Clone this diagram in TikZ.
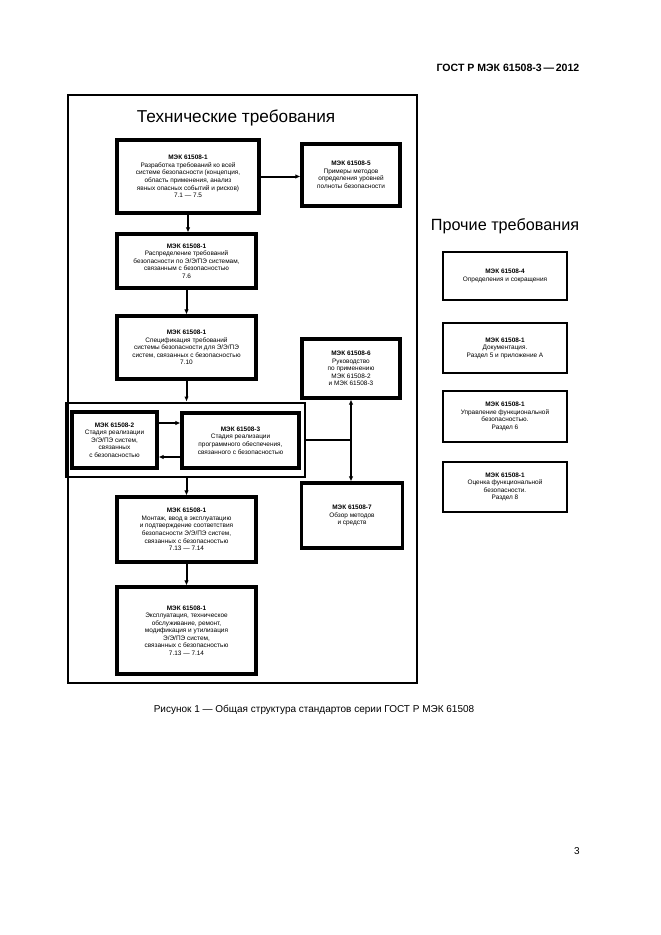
\documentclass[tikz,border=0pt]{standalone}
\usepackage{fontspec}
\setmainfont{Liberation Sans}
\usetikzlibrary{arrows.meta}
\definecolor{framecolor}{rgb}{0,0,0}

\begin{document}
\begin{tikzpicture}[x=0.9pt, y=-0.9pt, draw=framecolor,
    techbox/.style={draw, line width=2.8pt, align=center, inner sep=0pt,
      font=\fontsize{5.8}{6.8}\selectfont},
    otherbox/.style={draw, line width=1.8pt, align=center, inner sep=0pt,
      font=\fontsize{5.8}{6.8}\selectfont},
    arr/.style={-{Latex[length=4.5pt,width=4pt]}, line width=1.8pt},
    biarr/.style={{Latex[length=4.5pt,width=4pt]}-{Latex[length=4.5pt,width=4pt]}, line width=1.8pt},
    heading/.style={font=\fontsize{15.5}{18}\selectfont}]
  \useasboundingbox (0,0) rectangle (661,935);
  \fill[white] (0,0) rectangle (661,935);

  % page header, caption, page number
  \node (gost) at (508,68) {\bfseries\fontsize{9.5}{11}\selectfont ГОСТ Р МЭК 61508-3\,—\,2012};
  \node (capt) at (314,710) {\fontsize{9}{10}\selectfont Рисунок 1 — Общая структура стандартов серии ГОСТ Р МЭК 61508};
  \node (pnum) at (577,851) {\fontsize{9}{11}\selectfont 3};

  % technical requirements
  \draw[line width=2.1pt] (68,95) rectangle (417,683);
  \node[heading] (tech) at (236,118) {Технические требования};

  \node[techbox, minimum width=142*0.9pt, minimum height=73*0.9pt] (b1) at (188,176.5)
    {\textbf{МЭК 61508-1}\\Разработка требований ко всей\\системе безопасности (концепция,\\область применения, анализ\\явных опасных событий и рисков)\\7.1 — 7.5};
  \node[techbox, minimum width=98*0.9pt, minimum height=62*0.9pt] (b5) at (351,175)
    {\textbf{МЭК 61508-5}\\Примеры методов\\определения уровней\\полноты безопасности};
  \node[techbox, minimum width=139*0.9pt, minimum height=54*0.9pt] (b3) at (186.5,261)
    {\textbf{МЭК 61508-1}\\Распределение требований\\безопасности по Э/Э/ПЭ системам,\\связанным с безопасностью\\7.6};
  \node[techbox, minimum width=139*0.9pt, minimum height=63*0.9pt] (b4) at (186.5,347.5)
    {\textbf{МЭК 61508-1}\\Спецификация требований\\системы безопасности для Э/Э/ПЭ\\систем, связанных с безопасностью\\7.10};
  \node[techbox, minimum width=98*0.9pt, minimum height=59*0.9pt] (b6) at (351,368.5)
    {\textbf{МЭК 61508-6}\\Руководство\\по применению\\МЭК 61508-2\\и МЭК 61508-3};

  \node[draw, line width=2.6pt, minimum width=239*0.9pt, minimum height=74*0.9pt] (grp) at (185.5,440) {};
  \node[techbox, minimum width=85*0.9pt, minimum height=56*0.9pt] (hw) at (114.5,440)
    {\textbf{МЭК 61508-2}\\Стадия реализации\\Э/Э/ПЭ систем,\\связанных\\с безопасностью};
  \node[techbox, minimum width=117*0.9pt, minimum height=55*0.9pt] (sw) at (240.5,440.5)
    {\textbf{МЭК 61508-3}\\Стадия реализации\\программного обеспечения,\\связанного с безопасностью};

  \node[techbox, minimum width=101*0.9pt, minimum height=65*0.9pt] (b9) at (352,515.5)
    {\textbf{МЭК 61508-7}\\Обзор методов\\и средств};
  \node[techbox, minimum width=139*0.9pt, minimum height=65*0.9pt] (b8) at (186.5,529.5)
    {\textbf{МЭК 61508-1}\\Монтаж, ввод в эксплуатацию\\и подтверждение соответствия\\безопасности Э/Э/ПЭ систем,\\связанных с безопасностью\\7.13 — 7.14};
  \node[techbox, minimum width=139*0.9pt, minimum height=87*0.9pt] (b10) at (186.5,630.5)
    {\textbf{МЭК 61508-1}\\Эксплуатация, техническое\\обслуживание, ремонт,\\модификация и утилизация\\Э/Э/ПЭ систем,\\связанных с безопасностью\\7.13 — 7.14};

  \draw[arr] (b1.east) -- (b1.east -| b5.west);
  \draw[arr] (b1.south) -- (b1.south |- b3.north);
  \draw[arr] (b3.south) -- (b4.north);
  \draw[arr] (b4.south) -- (b4.south |- grp.north);
  \draw[arr] (hw.east |- 0,423) -- (sw.west |- 0,423);
  \draw[arr] (sw.west |- 0,457) -- (hw.east |- 0,457);
  \draw[arr] (grp.south -| b8.north) -- (b8.north);
  \draw[arr] (b8.south) -- (b10.north);
  \coordinate (join) at (351,440);
  \draw[line width=1.8pt] (grp.east |- join) -- (join);
  \draw[biarr] (b6.south) -- (b6.south |- b9.north);

  % other requirements
  \node[heading, font=\fontsize{14.6}{17}\selectfont] (other) at (505,226) {Прочие требования};
  \node[otherbox, minimum width=124*0.9pt, minimum height=48*0.9pt] (r1) at (505,276)
    {\textbf{МЭК 61508-4}\\Определения и сокращения};
  \node[otherbox, minimum width=124*0.9pt, minimum height=50*0.9pt] (r2) at (505,348)
    {\textbf{МЭК 61508-1}\\Документация.\\Раздел 5 и приложение А};
  \node[otherbox, minimum width=124*0.9pt, minimum height=51*0.9pt] (r3) at (505,416.5)
    {\textbf{МЭК 61508-1}\\Управление функциональной\\безопасностью.\\Раздел 6};
  \node[otherbox, minimum width=124*0.9pt, minimum height=50*0.9pt] (r4) at (505,487)
    {\textbf{МЭК 61508-1}\\Оценка функциональной\\безопасности.\\Раздел 8};
\end{tikzpicture}
\end{document}
